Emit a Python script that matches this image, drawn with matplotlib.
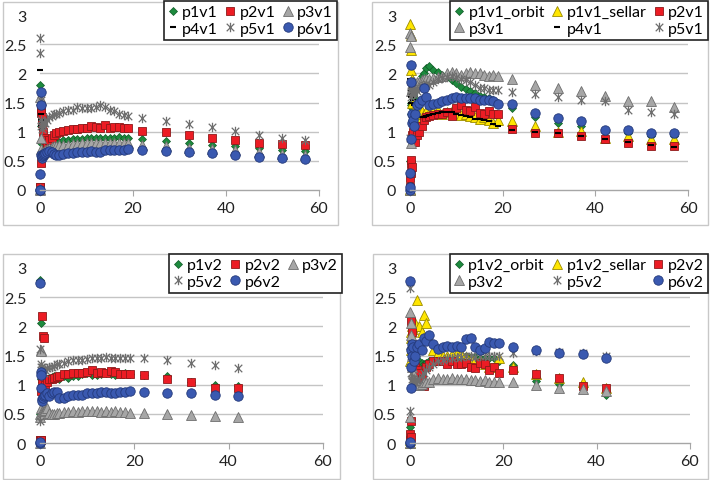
import matplotlib
matplotlib.use("Agg")
import matplotlib.pyplot as plt
import numpy as np
from matplotlib.path import Path
from matplotlib.patches import Rectangle

# ---------------- data ----------------
T_TOP = [0, 0.05, 0.1, 0.15, 0.2, 0.3, 0.4, 0.5, 0.6, 0.8, 1.0, 1.5, 2, 2.5, 3, 3.5, 4,
         5, 6, 7, 8, 9, 10, 11, 12, 13, 14, 15, 16, 17, 18, 19, 22, 27, 32, 37, 42, 47, 52, 57]
T_BOT = [0, 0.05, 0.1, 0.15, 0.2, 0.3, 0.4, 0.5, 0.6, 0.8, 1.0, 1.5, 2, 2.5, 3, 3.5, 4,
         5, 6, 7, 8, 9, 10, 11, 12, 13, 14, 15, 16, 17, 18, 19, 22, 27, 32, 37, 42]

# panel 1 (top left)
p1v1 = [0, 0.02, 1.8, 1.1, 0.8, 0.65, 0.6, 0.62, 0.65, 0.7, 0.72, 0.75, 0.78, 0.8, 0.81, 0.82, 0.83,
        0.85, 0.86, 0.87, 0.88, 0.88, 0.89, 0.89, 0.9, 0.89, 0.9, 0.9, 0.9, 0.91, 0.9, 0.89,
        0.87, 0.84, 0.81, 0.78, 0.75, 0.72, 0.69, 0.67]
p2v1 = [0, 0.05, 0.06, 0.47, 1.38, 1.32, 1.25, 1.15, 1.0, 0.9, 0.85, 0.8, 0.85, 0.9, 0.95, 0.98, 1.0,
        1.02, 1.03, 1.05, 1.05, 1.06, 1.07, 1.1, 1.08, 1.07, 1.12, 1.07, 1.08, 1.08, 1.07, 1.06,
        1.01, 0.99, 0.95, 0.9, 0.86, 0.81, 0.79, 0.77]
p3v1 = [0, 0.01, 1.6, 1.55, 0.9, 0.7, 0.65, 0.62, 0.64, 0.66, 0.68, 0.7, 0.72, 0.74, 0.75, 0.76, 0.77,
        0.78, 0.78, 0.79, 0.79, 0.8, 0.8, 0.8, 0.81, 0.8, 0.81, 0.81, 0.8, 0.81, 0.8, 0.8,
        0.78, 0.75, 0.72, 0.7, 0.68, 0.65, 0.62, 0.6]
p4v1 = [0, 0.01, 2.05, 1.3, 1.2, 1.1, 1.15, 1.05, 0.6, 0.62, 0.63, 0.65, 0.67, 0.65, 0.62, 0.6, 0.6,
        0.62, 0.63, 0.63, 0.66, 0.65, 0.66, 0.67, 0.66, 0.65, 0.68, 0.68, 0.68, 0.69, 0.69, 0.7,
        0.68, 0.67, 0.65, 0.64, 0.6, 0.57, 0.55, 0.53]
p5v1 = [0, 2.6, 2.35, 1.55, 1.2, 1.1, 1.05, 1.15, 1.1, 1.15, 1.15, 1.2, 1.25, 1.27, 1.3, 1.3, 1.32,
        1.35, 1.37, 1.38, 1.42, 1.4, 1.4, 1.4, 1.42, 1.45, 1.42, 1.38, 1.35, 1.3, 1.28, 1.27,
        1.24, 1.18, 1.13, 1.08, 1.02, 0.95, 0.9, 0.86]
p6v1 = [0, 0.0, 0.28, 1.68, 1.45, 0.6, 0.55, 0.58, 0.6, 0.62, 0.63, 0.65, 0.67, 0.65, 0.62, 0.6, 0.6,
        0.62, 0.63, 0.63, 0.66, 0.65, 0.66, 0.67, 0.66, 0.65, 0.68, 0.68, 0.68, 0.69, 0.69, 0.7,
        0.68, 0.67, 0.65, 0.64, 0.6, 0.57, 0.55, 0.53]

# panel 2 (top right)
p1v1_orbit = [0, 0.1, 0.5, 1.3, 1.5, 1.45, 1.4, 1.45, 1.5, 1.6, 1.7, 1.75, 1.85, 1.95, 2.0, 2.1, 2.12,
              2.05, 2.02, 1.98, 1.93, 1.88, 1.83, 1.77, 1.73, 1.7, 1.66, 1.62, 1.6, 1.57, 1.55, 1.5,
              1.4, 1.25, 1.15, 1.1, 1.0, 0.97, 0.93, 0.92]
p1v1_sellar = [0, 0.02, 2.85, 2.65, 2.4, 2.05, 1.9, 1.5, 1.35, 1.25, 1.2, 1.25, 1.3, 1.35, 1.3, 1.35, 1.32,
               1.35, 1.38, 1.3, 1.33, 1.35, 1.3, 1.28, 1.3, 1.27, 1.25, 1.22, 1.25, 1.2, 1.15, 1.2,
               1.18, 1.1, 1.0, 1.02, 0.9, 0.93, 0.88, 0.88]
p2v1_b = [0, 0.05, 0.2, 0.3, 0.45, 0.52, 0.4, 0.95, 1.0, 0.88, 0.82, 0.95, 1.0, 1.1, 1.2, 1.25, 1.27,
          1.28, 1.3, 1.3, 1.33, 1.27, 1.4, 1.45, 1.38, 1.35, 1.42, 1.32, 1.3, 1.35, 1.3, 1.3,
          1.05, 0.98, 0.97, 0.92, 0.87, 0.8, 0.76, 0.75]
p3v1_b = [0, 2.7, 2.45, 2.64, 0.8, 1.7, 1.75, 1.8, 1.85, 1.85, 1.8, 1.85, 1.85, 1.88, 1.9, 1.9, 1.9,
          1.92, 1.93, 1.95, 2.0, 2.02, 2.0, 1.98, 2.0, 2.02, 2.0, 2.0, 1.98, 1.95, 1.97, 1.95,
          1.9, 1.8, 1.75, 1.7, 1.62, 1.53, 1.52, 1.43]
p4v1_b = [0, 0.02, 1.9, 1.7, 1.6, 1.5, 1.65, 1.75, 1.55, 1.45, 1.35, 1.3, 1.25, 1.25, 1.25, 1.27, 1.28,
          1.3, 1.32, 1.33, 1.33, 1.33, 1.3, 1.28, 1.27, 1.25, 1.22, 1.22, 1.2, 1.18, 1.13, 1.1,
          1.03, 1.0, 0.97, 0.93, 0.87, 0.82, 0.77, 0.74]
p5v1_b = [0, 0.02, 0.9, 1.75, 1.6, 1.7, 1.65, 1.8, 1.7, 1.65, 1.75, 1.7, 1.75, 1.78, 1.8, 1.82, 1.8,
          1.85, 1.9, 1.92, 1.93, 1.95, 1.93, 1.9, 1.88, 1.85, 1.8, 1.75, 1.75, 1.72, 1.72, 1.72,
          1.68, 1.65, 1.6, 1.55, 1.52, 1.38, 1.33, 1.3]
p6v1_b = [0, 0.05, 0.3, 2.15, 1.85, 0.88, 1.15, 1.3, 1.2, 1.1, 1.3, 1.45, 1.5, 1.55, 1.75, 1.6, 1.45,
          1.48, 1.5, 1.52, 1.55, 1.58, 1.6, 1.58, 1.57, 1.58, 1.57, 1.55, 1.55, 1.55, 1.52, 1.48,
          1.48, 1.32, 1.24, 1.18, 1.03, 1.03, 0.97, 0.97]

# panel 3 (bottom left)
p1v2 = [0.02, 0.5, 2.8, 2.05, 1.2, 1.1, 1.05, 1.0, 1.05, 1.1, 1.08, 1.1, 1.12, 1.13, 1.15, 1.12, 1.1,
        1.15, 1.12, 1.15, 1.15, 1.18, 1.2, 1.17, 1.17, 1.18, 1.2, 1.18, 1.17, 1.18, 1.2, 1.18,
        1.17, 1.15, 1.05, 1.0, 0.97]
p2v2 = [0, 0.05, 0.05, 0.05, 0.05, 0.9, 1.05, 2.17, 1.83, 1.8, 1.0, 1.05, 1.1, 1.1, 1.12, 1.13, 1.15,
        1.18, 1.18, 1.2, 1.2, 1.2, 1.22, 1.25, 1.2, 1.22, 1.2, 1.23, 1.22, 1.18, 1.18, 1.18,
        1.17, 1.1, 1.05, 0.95, 0.95]
p3v2 = [0, 0.45, 0.5, 1.6, 1.58, 0.6, 0.55, 0.52, 0.5, 0.55, 0.57, 0.6, 0.52, 0.5, 0.5, 0.51, 0.52,
        0.53, 0.54, 0.55, 0.54, 0.55, 0.55, 0.55, 0.55, 0.54, 0.55, 0.54, 0.55, 0.54, 0.54, 0.52,
        0.52, 0.5, 0.48, 0.46, 0.44]
p5v2 = [0, 0.38, 1.62, 1.35, 1.3, 1.25, 1.2, 1.3, 1.25, 1.2, 1.25, 1.28, 1.3, 1.3, 1.32, 1.35, 1.35,
        1.38, 1.4, 1.42, 1.42, 1.43, 1.44, 1.45, 1.46, 1.46, 1.47, 1.46, 1.45, 1.45, 1.45, 1.46,
        1.46, 1.43, 1.38, 1.34, 1.29]
p6v2 = [0, 0.02, 2.75, 1.22, 1.17, 0.95, 0.75, 0.72, 0.78, 0.8, 0.82, 0.85, 0.8, 0.85, 0.88, 0.88, 0.77,
        0.78, 0.8, 0.82, 0.83, 0.83, 0.85, 0.85, 0.86, 0.87, 0.87, 0.85, 0.85, 0.87, 0.88, 0.9,
        0.88, 0.86, 0.85, 0.83, 0.8]

# panel 4 (bottom right)
p1v2_orbit = [0, 0.27, 0.1, 1.55, 1.75, 1.6, 1.5, 1.45, 1.55, 1.5, 1.45, 1.4, 1.4, 1.38, 1.35, 1.38, 1.4,
              1.4, 1.42, 1.43, 1.45, 1.45, 1.45, 1.48, 1.5, 1.48, 1.47, 1.45, 1.45, 1.45, 1.45, 1.4,
              1.33, 1.07, 1.02, 0.95, 0.82]
p1v2_sellar = [0, 0.05, 1.4, 1.6, 1.8, 1.9, 2.0, 2.1, 1.95, 2.0, 2.05, 2.45, 2.0, 1.9, 2.2, 2.05, 1.8,
               1.6, 1.55, 1.5, 1.5, 1.52, 1.55, 1.55, 1.48, 1.45, 1.42, 1.4, 1.35, 1.3, 1.3, 1.45,
               1.3, 1.18, 1.12, 1.05, 0.95]
p2v2_b = [0, 0.05, 0.15, 0.1, 0.37, 2.1, 1.9, 1.7, 1.55, 1.4, 1.3, 1.25, 1.2, 1.1, 0.97, 1.3, 1.35,
          1.4, 1.4, 1.4, 1.35, 1.4, 1.35, 1.35, 1.38, 1.3, 1.28, 1.38, 1.35, 1.25, 1.3, 1.2,
          1.25, 1.18, 1.12, 0.98, 0.95]
p3v2_b = [0, 0.45, 2.25, 2.05, 1.85, 1.7, 1.5, 1.3, 1.2, 1.1, 1.05, 1.0, 1.0, 1.02, 1.05, 1.05, 1.05,
          1.1, 1.12, 1.1, 1.1, 1.12, 1.1, 1.1, 1.1, 1.08, 1.08, 1.07, 1.08, 1.05, 1.05, 1.05,
          1.05, 1.0, 0.95, 0.93, 0.9]
p5v2_b = [0, 0.55, 2.65, 1.5, 1.3, 1.2, 1.1, 1.05, 1.05, 1.05, 1.05, 1.08, 1.1, 1.15, 1.2, 1.25, 1.3,
          1.35, 1.4, 1.42, 1.45, 1.45, 1.47, 1.48, 1.5, 1.5, 1.48, 1.5, 1.5, 1.5, 1.5, 1.5,
          1.55, 1.57, 1.56, 1.55, 1.5]
p6v2_b = [0, 0.02, 2.78, 0.95, 1.3, 1.6, 1.7, 1.5, 1.65, 1.4, 1.5, 1.65, 1.7, 1.6, 1.8, 1.75, 1.85,
          1.7, 1.62, 1.65, 1.67, 1.65, 1.67, 1.65, 1.78, 1.8, 1.65, 1.6, 1.63, 1.73, 1.72, 1.72,
          1.64, 1.6, 1.55, 1.52, 1.45]

X_TICKS = [0, 20, 40, 60]
Y_TICKS = [0, 0.5, 1, 1.5, 2, 2.5, 3]
Y_TICK_LABELS = ["0", "0.5", "1", "1.5", "2", "2.5", "3"]

# ---------------- styles ----------------
W, H = 711, 481
plt.rcParams['font.family'] = ['Lato', 'DejaVu Sans']

STAR = Path([(-1, -1), (1, 1), (-1, 1), (1, -1), (0, -1.25), (0, 1.25)],
            [Path.MOVETO, Path.LINETO, Path.MOVETO, Path.LINETO, Path.MOVETO, Path.LINETO])

STY = {
    'diamond': dict(marker='D', ms=4.3, mfc='#1d8a3e', mec='#0f5a25', mew=0.5),
    'square': dict(marker='s', ms=6.2, mfc='#ec1c24', mec='#8e1a1a', mew=0.6),
    'gtri': dict(marker='^', ms=6.5, mfc='#a6a6a6', mec='#6e6e6e', mew=0.6),
    'ytri': dict(marker='^', ms=6.5, mfc='#ffe600', mec='#9a8a00', mew=0.6),
    'dash': dict(marker='_', ms=5, mfc='black', mec='black', mew=1.5),
    'star': dict(marker=STAR, ms=6.8, mfc='none', mec='#6e6e6e', mew=0.9),
    'circle': dict(marker='o', ms=6.8, mfc='#3a59b0', mec='#23397a', mew=0.6),
}


def fx(px):
    return px / W


def fy(py):
    return 1 - py / H


fig = plt.figure(figsize=(W / 100, H / 100), dpi=100)

# outer chart borders
for (x0, y0, x1, y1) in [(3, 3, 338, 226), (372, 3, 708, 226), (3, 255, 340, 480), (373, 255, 708, 480)]:
    fig.add_artist(Rectangle((fx(x0), fy(y1)), (x1 - x0) / W, (y1 - y0) / H,
                             transform=fig.transFigure, fill=False, ec='#c8c8c8', lw=1.0))


def make_ax(left, right, top, bottom):
    ax = fig.add_axes([fx(left), fy(bottom), (right - left) / W, (bottom - top) / H])
    ax.set_xlim(0, 60)
    ax.set_ylim(0, 3)
    ax.set_xticks(X_TICKS)
    ax.set_xticklabels([str(v) for v in X_TICKS])
    ax.set_yticks(Y_TICKS)
    ax.set_yticklabels(Y_TICK_LABELS)
    for s in ['top', 'right', 'left']:
        ax.spines[s].set_visible(False)
    ax.spines['bottom'].set_color('#a6a6a6')
    ax.spines['bottom'].set_linewidth(1.0)
    ax.tick_params(axis='x', direction='out', length=4, color='#a6a6a6', labelsize=11.5, pad=4,
                   labelcolor='#222222')
    ax.tick_params(axis='y', length=0, labelsize=11.5, pad=10, labelcolor='#222222')
    for yv in [0.5, 1, 1.5, 2, 2.5]:
        ax.axhline(yv, color='#c4c4c4', lw=1.0, zorder=0)
    ax.patch.set_visible(False)
    return ax


def plot_series(ax, t, y, style, label):
    st = STY[style]
    ln, = ax.plot(t, y, linestyle='none', clip_on=False, label=label, **st)
    return ln


def add_legend(ax, handles, labels, right_px, top_px):
    # reorder to Excel row-major layout in 3 columns
    n = len(handles)
    order = []
    for c in range(3):
        for r in range(2):
            i = r * 3 + c
            if i < n:
                order.append(i)
    leg = fig.legend([handles[i] for i in order], [labels[i] for i in order],
                     loc='upper right', bbox_to_anchor=(fx(right_px), fy(top_px)),
                     ncol=3, frameon=True, fancybox=False, fontsize=11.5,
                     handlelength=0.6, handletextpad=0.3, columnspacing=0.45,
                     borderpad=0.25, labelspacing=0.15, borderaxespad=0.0)
    leg.get_frame().set_edgecolor('#222222')
    leg.get_frame().set_linewidth(1.2)
    leg.get_frame().set_alpha(1)
    return leg


# ---- panel 1
ax1 = make_ax(40, 319, 16, 191)
series1 = [(p1v1, 'diamond', 'p1v1'), (p2v1, 'square', 'p2v1'), (p3v1, 'gtri', 'p3v1'),
           (p4v1, 'dash', 'p4v1'), (p5v1, 'star', 'p5v1'), (p6v1, 'circle', 'p6v1')]
h1 = [plot_series(ax1, T_TOP, y, s, l) for y, s, l in series1]
add_legend(ax1, h1, [l for _, _, l in series1], 337, 2)

# ---- panel 2
ax2 = make_ax(410, 688, 16, 191)
series2 = [(p1v1_orbit, 'diamond', 'p1v1_orbit'), (p1v1_sellar, 'ytri', 'p1v1_sellar'),
           (p2v1_b, 'square', 'p2v1'), (p3v1_b, 'gtri', 'p3v1'), (p4v1_b, 'dash', 'p4v1'),
           (p5v1_b, 'star', 'p5v1')]
h2 = [plot_series(ax2, T_TOP, y, s, l) for y, s, l in series2]
plot_series(ax2, T_TOP, p6v1_b, 'circle', '_nolegend_')
add_legend(ax2, h2, [l for _, _, l in series2], 708, 2)

# ---- panel 3
ax3 = make_ax(40, 323, 269, 444)
series3 = [(p1v2, 'diamond', 'p1v2'), (p2v2, 'square', 'p2v2'), (p3v2, 'gtri', 'p3v2'),
           (p5v2, 'star', 'p5v2'), (p6v2, 'circle', 'p6v2')]
h3 = [plot_series(ax3, T_BOT, y, s, l) for y, s, l in series3]
add_legend(ax3, h3, [l for _, _, l in series3], 342, 255)

# ---- panel 4
ax4 = make_ax(410, 690, 269, 444)
series4 = [(p1v2_orbit, 'diamond', 'p1v2_orbit'), (p1v2_sellar, 'ytri', 'p1v2_sellar'),
           (p2v2_b, 'square', 'p2v2'), (p3v2_b, 'gtri', 'p3v2'), (p5v2_b, 'star', 'p5v2'),
           (p6v2_b, 'circle', 'p6v2')]
h4 = [plot_series(ax4, T_BOT, y, s, l) for y, s, l in series4]
add_legend(ax4, h4, [l for _, _, l in series4], 708, 255)

fig.savefig('out.png', dpi=100)
